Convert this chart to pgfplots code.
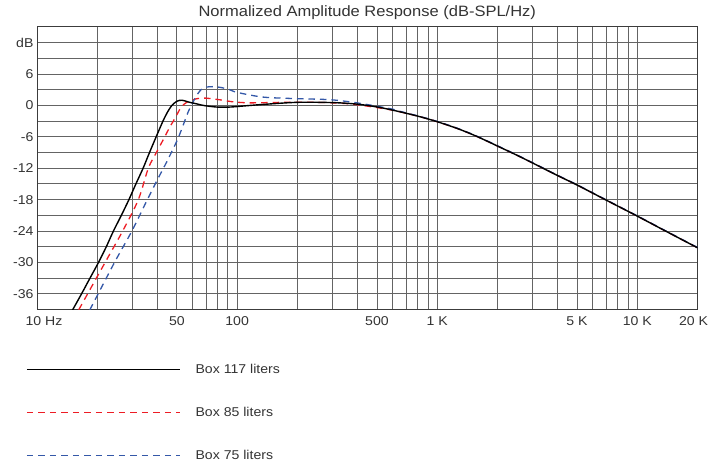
\documentclass[border=0pt]{standalone}
\usepackage{fontspec}
\setmainfont{Liberation Sans}[FakeStretch=1.1]
\usepackage{pgfplots}
\pgfplotsset{compat=1.18}
\definecolor{gridc}{RGB}{100,100,100}
\definecolor{framec}{RGB}{60,60,60}
\definecolor{txt}{RGB}{51,51,51}
\definecolor{cred}{RGB}{237,28,36}
\definecolor{cblue}{RGB}{52,88,168}

\begin{document}
\begin{tikzpicture}
\path[use as bounding box] (0pt,0pt) rectangle (726pt,464pt);
\begin{axis}[
    at={(37pt,154.5pt)}, anchor=south west,
    scale only axis,
    width=660.5pt, height=282.5pt,
    xmode=log, log basis x=10,
    xmin=10, xmax=20000,
    ymin=-39, ymax=15,
    xtick={10,50,100,500,1000,5000,10000,20000},
    xticklabels={\hspace*{14pt}10 Hz,50,100,500,1 K,5 K,10 K,20 K\hspace*{8pt}},
    minor xtick={20,30,40,60,70,80,90,200,300,400,600,700,800,900,2000,3000,4000,6000,7000,8000,9000},
    ytick={-36,-30,-24,-18,-12,-6,0,6,12},
    yticklabels={-36,-30,-24,-18,-12,-6,0,6,dB},
    minor ytick={-33,-27,-21,-15,-9,-3,3,9},
    grid=both,
    major grid style={draw=gridc, line width=0.9pt},
    minor grid style={draw=gridc, line width=0.9pt},
    major tick length=0pt, minor tick length=0pt,
    axis line style={draw=framec, line width=1pt},
    ticklabel style={font=\fontsize{12.8}{15}\selectfont, text=txt},
    xticklabel style={yshift=-4pt},
    title={Normalized Amplitude Response (dB-SPL/Hz)},
    title style={font=\fontsize{15}{18}\selectfont, text=txt, yshift=-2.5pt},
    legend style={at={(-0.01665,-0.3646)}, anchor=west, draw=none, fill=none,
        inner sep=0pt, row sep=28pt, column sep=13pt,
        font=\fontsize{12.8}{15}\selectfont, text=txt},
    legend cell align=left,
    legend image code/.code={\draw[#1] (0pt,0pt) -- (153pt,0pt);},
]
\addlegendimage{black, line width=1.4pt}
\addlegendentry{Box 117 liters}
\addlegendimage{cred, line width=1.3pt, dash pattern=on 6.5pt off 5pt}
\addlegendentry{Box 85 liters}
\addlegendimage{cblue, line width=1.3pt, dash pattern=on 6.5pt off 5pt}
\addlegendentry{Box 75 liters}

% Box 85 liters
\addplot[cred, line width=1.3pt, dash pattern=on 6.5pt off 5pt, smooth, forget plot] coordinates {
(15.2,-41) (16.2,-39) (21.9,-30) (26.8,-24) (32.1,-18) (36,-12) (39.5,-9) (42.8,-6.5)
(46,-4.2) (49,-2.4) (52.4,-0.4) (56,0.6) (63,1.3) (70,1.4) (85,1.0) (95,0.7)
(116,0.5) (170,0.6) (250,0.6) (367,0.3) (540,-0.6) (650,-1.2)
(820,-2.15) (1000,-3.1) (1250,-4.35) (1500,-5.55) (1750,-6.7) (2000,-7.75) (2500,-9.5)
(3000,-11.0) (4000,-13.4) (5000,-15.2) (7000,-18.1) (10000,-21.15) (14000,-24.1) (20000,-27.2)
};
% Box 75 liters
\addplot[cblue, line width=1.3pt, dash pattern=on 6.5pt off 5pt, smooth, forget plot] coordinates {
(17.2,-41) (18.4,-39) (24.4,-30) (29.8,-24) (35.6,-18) (40.2,-14) (44.2,-11) (50,-6.8)
(53,-4.4) (57,-1.2) (60,0.5) (62.5,1.8) (66,3.0) (70,3.5) (76,3.6) (84,3.4)
(92,3.0) (100,2.5) (135,1.6) (200,1.3) (292,1.1) (397,0.5) (580,-0.6) (650,-1.1)
(820,-2.1) (1000,-3.05) (1250,-4.3) (1500,-5.5) (1750,-6.65) (2000,-7.7) (2500,-9.45)
(3000,-10.95) (4000,-13.35) (5000,-15.15) (7000,-18.05) (10000,-21.1) (14000,-24.05) (20000,-27.15)
};
% Box 117 liters
\addplot[black, line width=1.4pt, smooth, forget plot] coordinates {
(14.1,-41) (15.1,-39) (16.7,-36) (18.4,-33) (20.3,-30) (22.2,-27) (24.1,-24) (26.4,-21)
(28.8,-18) (31.2,-15) (33.9,-12) (36.5,-9) (39.4,-6) (42.6,-3) (45,-1.2) (47.2,0)
(50,0.8) (53,1.0) (58,0.6) (63,0.3) (68,0) (79,-0.3) (92,-0.3) (100,-0.2)
(135,0.2) (200,0.6) (300,0.55) (400,0.25) (520,-0.4) (650,-1.2)
(820,-2.15) (1000,-3.1) (1250,-4.35) (1500,-5.55) (1750,-6.7) (2000,-7.75) (2500,-9.5)
(3000,-11.0) (4000,-13.4) (5000,-15.2) (7000,-18.1) (10000,-21.15) (14000,-24.1) (20000,-27.2)
};
\end{axis}
\end{tikzpicture}
\end{document}
